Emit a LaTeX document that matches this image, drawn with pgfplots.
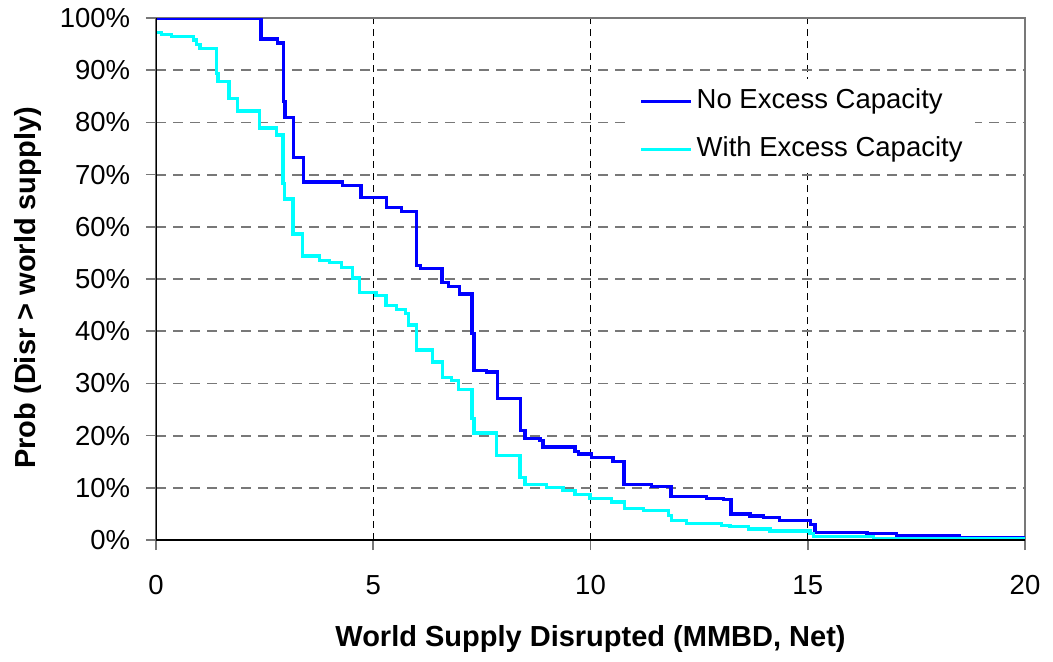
\documentclass[border=0pt]{standalone}
\usepackage{pgfplots}
\pgfplotsset{compat=1.18}
\usepackage{fontspec}
\setmainfont{Liberation Sans}
\definecolor{noexc}{RGB}{0,0,255}
\definecolor{withexc}{RGB}{0,255,255}
\definecolor{gridgray}{RGB}{120,120,120}
\begin{document}
\begin{tikzpicture}
\useasboundingbox (-78pt,-60.5pt) rectangle (448.5pt,270pt);
\begin{axis}[
  at={(0,0)}, anchor=south west,
  scale only axis, width=434.5pt, height=261pt,
  xmin=0, xmax=20, ymin=0, ymax=100,
  xtick={0,5,10,15,20},
  ytick={0,10,...,100},
  yticklabel={\pgfmathprintnumber{\tick}\%},
  /pgf/number format/assume math mode=true,
  ticklabel style={font=\fontsize{13.75}{16}\selectfont},
  xticklabel style={anchor=north, inner sep=0pt, yshift=-12.5pt},
  yticklabel style={anchor=east, inner sep=0pt, xshift=-7.7pt},
  tick align=outside, major tick length=5pt,
  xtick pos=bottom, ytick pos=left,
  tick style={gridgray, line width=0.8pt},
  grid=major,
  x grid style={black, line width=0.5pt, dash pattern=on 3.5pt off 2.5pt},
  y grid style={gridgray, line width=0.9pt, dash pattern=on 5pt off 3.5pt},
  axis line style={gridgray, line width=1pt},
  xlabel={\bfseries\fontsize{14.5}{17}\selectfont World Supply Disrupted (MMBD, Net)},
  xlabel style={at={(axis description cs:0.5,-0.2044)}, anchor=base, inner sep=0pt},
  ylabel={\bfseries\fontsize{14.5}{17}\selectfont Prob (Disr > world supply)},
  ylabel style={at={(axis description cs:-0.1392,0.483)}, anchor=base, inner sep=0pt, rotate=0},
  legend style={draw=none, fill=white, at={(axis description cs:0.542,0.794)}, anchor=west,
    font=\fontsize{13.75}{16}\selectfont, inner xsep=6pt, inner ysep=5pt,
    row sep=10.8pt,
    nodes={inner sep=0pt, text height=10pt, text depth=3pt}},
  legend cell align=left,
  legend image code/.code={\draw[#1] (0pt,0pt) -- (25pt,0pt);},
  every axis legend/.append style={column sep=2pt},
]
\addplot[const plot, color=noexc, line width=1.65pt] coordinates {
(0,100) (2.42,96.0) (2.80,95.2) (2.93,84.0) (2.97,80.9) (3.16,73.3) (3.39,68.6)
(4.30,67.9) (4.72,65.6) (5.31,63.7) (5.65,62.9) (6.0,52.6) (6.09,52.0) (6.58,49.3)
(6.73,48.5) (6.98,47.1) (7.27,39.6) (7.32,32.5) (7.61,32.2) (7.86,27.1) (8.39,21.0)
(8.49,19.5) (8.84,19.0) (8.91,17.8) (9.64,17.0) (9.72,16.5) (10.03,15.8) (10.52,15.0)
(10.77,10.7) (11.41,10.3) (11.85,8.4) (12.67,8.0) (13.06,7.7) (13.23,5.0) (13.67,4.6)
(13.98,4.3) (14.35,3.7) (15.07,3.0) (15.17,1.5) (16.36,1.2) (17.05,0.9) (18.50,0.5)
(20,0.5)
};
\addlegendentry{No Excess Capacity}
\addplot[const plot, color=withexc, line width=1.65pt] coordinates {
(0,97.2) (0.13,96.8) (0.36,96.4) (0.86,95.8) (0.94,94.9) (1.01,94.2) (1.40,89.4)
(1.43,87.8) (1.68,84.6) (1.87,82.2) (2.39,78.9) (2.78,77.6) (2.92,68.3) (2.96,65.3)
(3.15,58.6) (3.37,54.4) (3.76,53.6) (4.0,53.2) (4.27,52.2) (4.53,50.2) (4.69,47.4)
(5.06,46.9) (5.29,44.9) (5.54,44.2) (5.75,43.4) (5.81,41.2) (6.0,36.4) (6.37,34.1)
(6.60,31.1) (6.80,30.6) (6.96,28.8) (7.27,23.3) (7.32,20.5) (7.84,16.2) (8.38,12.0)
(8.49,10.6) (8.99,10.0) (9.37,9.5) (9.64,8.7) (9.99,7.9) (10.49,7.3) (10.79,6.1)
(11.22,5.7) (11.79,4.7) (11.87,3.7) (12.21,3.2) (13.02,2.8) (13.21,2.6) (13.63,2.1)
(14.13,1.7) (15.05,1.2) (15.13,0.7) (16.51,0.2) (20,0.2)
};
\addlegendentry{With Excess Capacity}
\draw[black, line width=0.8pt] (rel axis cs:0,1) -- (rel axis cs:0,0) -- (rel axis cs:1,0);
\end{axis}
\end{tikzpicture}
\end{document}
